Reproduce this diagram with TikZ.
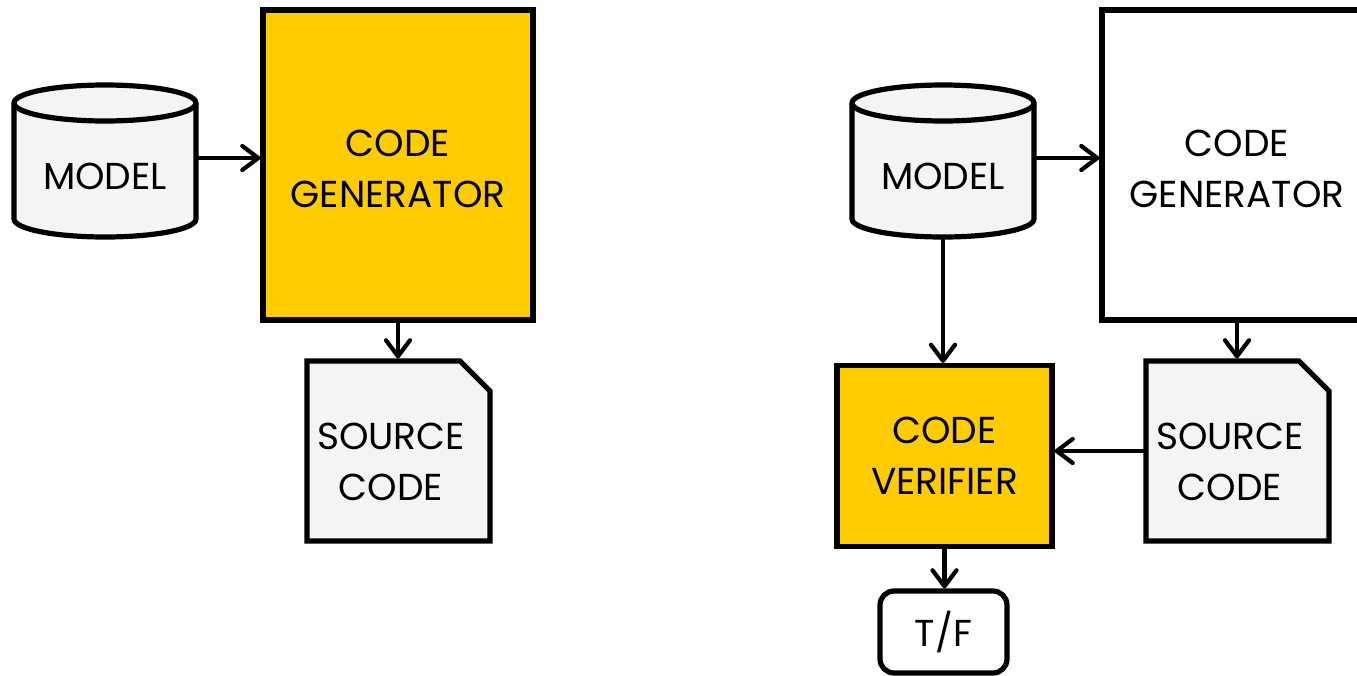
\documentclass[tikz,border=0pt]{standalone}
\usepackage{fontspec}
\setmainfont{Poppins}
\usetikzlibrary{arrows.meta}
\definecolor{genyellow}{HTML}{FFCC00}
\definecolor{docgray}{HTML}{F4F4F4}
\begin{document}
\begin{tikzpicture}[x=1pt,y=-1pt,
  box/.style={draw=black, line width=5.2pt, line join=miter},
  shapeonly/.style={inner sep=0pt, outer sep=2.6pt},
  lbl/.style={font=\fontsize{37.5}{51}\selectfont, align=center, text=black, inner sep=0pt},
  conn/.style={line width=4.2pt, line cap=round, line join=round,
    -{Straight Barb[length=16pt,width=24pt,line cap=round,line join=round]}}]
\useasboundingbox (0,0) rectangle (1357,675);

% ---------- left: generation only ----------
\node[shapeonly, minimum width=183pt, minimum height=124pt] (m1) at (105,175) {};
\draw[box, fill=docgray] (14,219) arc (180:360:91pt and 18pt) -- (196,103)
  arc (0:180:91pt and 18pt) -- cycle;
\draw[box] (14,103) arc (180:360:91pt and 18pt);
\node[lbl] (m1txt) at (105,176) {MODEL};

\node[box, fill=genyellow, minimum width=270pt, minimum height=310pt] (gen1) at (398,165) {};
\node[lbl] (gen1txt) at (398,169) {CODE\\GENERATOR};

\node[shapeonly, minimum width=183pt, minimum height=180pt] (src1) at (398.5,451) {};
\draw[box, fill=docgray] (307,361) -- (460,361) -- (490,391) -- (490,541) -- (307,541) -- cycle;
\node[lbl] (src1txt) at (391,462) {SOURCE\\CODE};

\draw[conn] ([yshift=17pt]m1.east) -- ([yshift=17pt]m1.east -| gen1.west);
\draw[conn] (gen1.south) -- (gen1.south |- src1.north);

% ---------- right: generation with verification ----------
\node[shapeonly, minimum width=183pt, minimum height=124pt] (m2) at (943,175) {};
\draw[box, fill=docgray] (852,219) arc (180:360:91pt and 18pt) -- (1034,103)
  arc (0:180:91pt and 18pt) -- cycle;
\draw[box] (852,103) arc (180:360:91pt and 18pt);
\node[lbl] (m2txt) at (943,176) {MODEL};

\node[box, fill=white, minimum width=270pt, minimum height=310pt] (gen2) at (1237,165) {};
\node[lbl] (gen2txt) at (1237,169) {CODE\\GENERATOR};

\node[shapeonly, minimum width=183pt, minimum height=180pt] (src2) at (1237.5,451) {};
\draw[box, fill=docgray] (1146,361) -- (1299,361) -- (1329,391) -- (1329,541) -- (1146,541) -- cycle;
\node[lbl] (src2txt) at (1230,462) {SOURCE\\CODE};

\node[box, lbl, fill=genyellow, minimum width=215pt, minimum height=181pt] (ver) at (944.5,456) {CODE\\VERIFIER};

\node[box, lbl, fill=white, rounded corners=14pt, minimum width=127pt, minimum height=82pt] (tf) at (943.5,632) {T/F};

\draw[conn] ([yshift=17pt]m2.east) -- ([yshift=17pt]m2.east -| gen2.west);
\draw[conn] (gen2.south) -- (gen2.south |- src2.north);
\draw[conn] (m2.south) -- (m2.south |- ver.north);
\draw[conn] (src2.west) -- (src2.west -| ver.east);
\draw[conn] (ver.south) -- (ver.south |- tf.north);
\end{tikzpicture}
\end{document}
